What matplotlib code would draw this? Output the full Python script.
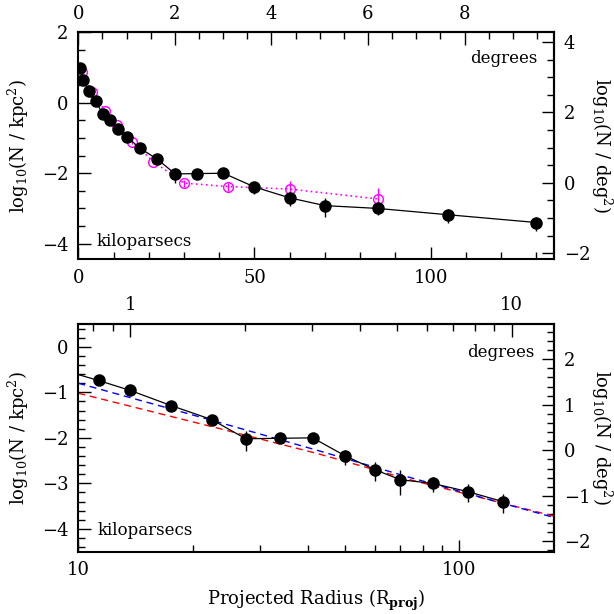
import numpy as np
import matplotlib
matplotlib.use("Agg")
import matplotlib.pyplot as plt
from matplotlib.ticker import MultipleLocator, FixedLocator, NullFormatter, FuncFormatter

# =====================
# DATA
# =====================
KPC_PER_DEG = 13.7

# black profile (kpc, log10 N/kpc^2)
radius = [0.5, 1.4, 3.1, 4.9, 6.9, 9.0, 11.3, 13.7, 17.5, 22.4, 27.5, 33.8, 41.2,
          50.0, 60.0, 70.0, 85.0, 105.0, 130.0]
logN = [1.00, 0.66, 0.33, 0.05, -0.31, -0.50, -0.74, -0.96, -1.29, -1.60, -2.02,
        -2.01, -2.00, -2.39, -2.70, -2.92, -3.00, -3.18, -3.40]
err_lo = [0.02, 0.02, 0.03, 0.03, 0.04, 0.04, 0.05, 0.05, 0.06, 0.12, 0.26, 0.10,
          0.10, 0.20, 0.24, 0.33, 0.20, 0.22, 0.24]
err_hi = [0.02, 0.02, 0.03, 0.03, 0.04, 0.04, 0.05, 0.05, 0.05, 0.08, 0.16, 0.08,
          0.08, 0.13, 0.17, 0.22, 0.15, 0.16, 0.17]

# magenta comparison profile
radius_mag = [1.0, 4.0, 7.6, 11.0, 15.2, 21.3, 30.0, 42.6, 60.0, 85.0]
logN_mag = [0.88, 0.30, -0.22, -0.63, -1.10, -1.67, -2.28, -2.38, -2.45, -2.73]
err_mag_lo = [0.02, 0.03, 0.04, 0.05, 0.06, 0.08, 0.12, 0.12, 0.18, 0.17]
err_mag_hi = [0.02, 0.03, 0.04, 0.05, 0.06, 0.08, 0.10, 0.10, 0.22, 0.30]

# model curves (bottom panel)
model_radius = [10.0, 22.3, 42.6, 74.1, 177.0]
model_blue = [-0.80, -1.61, -2.28, -2.87, -3.75]
model_red = [-1.02, -1.75, -2.35, -2.92, -3.72]

# tick values
top1_ticks = [0, 2, 4, 6, 8]
right1_ticks = [-2, 0, 2, 4]
top2_ticks = [1, 10]
top2_minor = [0.8, 0.9, 2, 3, 4, 5, 6, 7, 8, 9]
right2_ticks = [-2, -1, 0, 1, 2]

# =====================
# STYLE
# =====================
plt.rcParams["font.family"] = ["DejaVu Serif"]
plt.rcParams["mathtext.fontset"] = "dejavuserif"
plt.rcParams["font.size"] = 13
plt.rcParams["axes.linewidth"] = 1.5

OFFSET = 2 * np.log10(KPC_PER_DEG)


def kpc2deg(x):
    return np.asarray(x) / KPC_PER_DEG


def deg2kpc(x):
    return np.asarray(x) * KPC_PER_DEG


def to_deg2(y):
    return np.asarray(y) + OFFSET


def to_kpc2(y):
    return np.asarray(y) - OFFSET


def style_ticks(ax):
    ax.tick_params(which="both", direction="in", width=1.0, pad=7, labelsize=13)
    ax.tick_params(which="major", length=9)
    ax.tick_params(which="minor", length=5)


fmt_g = FuncFormatter(lambda v, p: f"{v:g}")

fig = plt.figure(figsize=(6.14, 6.14), dpi=100)

# =====================
# TOP PANEL (linear)
# =====================
ax1 = fig.add_axes([0.1275, 0.5774, 0.7748, 0.3698])
ax1.errorbar(radius_mag, logN_mag, yerr=[err_mag_lo, err_mag_hi], fmt="o",
             ls=(0, (1, 2)), color="#ff00ff", mfc="none", mec="#ff00ff", ms=7,
             mew=1.0, lw=1.2, elinewidth=1.0, capsize=0, zorder=2)
ax1.errorbar(radius, logN, yerr=[err_lo, err_hi], fmt="o-", color="black",
             ms=8, lw=0.9, elinewidth=1.0, capsize=0, zorder=3)
ax1.set_xlim(0, 135)
ax1.set_ylim(-4.45, 2.0)
ax1.xaxis.set_major_locator(FixedLocator([0, 50, 100]))
ax1.xaxis.set_minor_locator(FixedLocator(np.arange(0, 131, 10)))
ax1.yaxis.set_major_locator(FixedLocator([-4, -2, 0, 2]))
ax1.yaxis.set_minor_locator(FixedLocator(np.arange(-4.0, 2.01, 0.5)))
style_ticks(ax1)

top1 = ax1.secondary_xaxis("top", functions=(kpc2deg, deg2kpc))
top1.xaxis.set_major_locator(FixedLocator(top1_ticks))
top1.xaxis.set_minor_locator(FixedLocator(np.arange(0, 9.81, 0.5)))
style_ticks(top1)

right1 = ax1.secondary_yaxis("right", functions=(to_deg2, to_kpc2))
right1.yaxis.set_major_locator(FixedLocator(right1_ticks))
right1.yaxis.set_minor_locator(FixedLocator(np.arange(-2.0, 4.01, 0.5)))
style_ticks(right1)

ax1.text(0.966, 0.887, "degrees", transform=ax1.transAxes, ha="right",
         va="center", fontsize=12)
ax1.text(0.039, 0.081, "kiloparsecs", transform=ax1.transAxes, ha="left",
         va="center", fontsize=12)

# =====================
# BOTTOM PANEL (log x)
# =====================
ax2 = fig.add_axes([0.1275, 0.1015, 0.7748, 0.3708])
ax2.plot(model_radius, model_red, color="red", lw=1.0, ls=(0, (5, 3.5)), zorder=2)
ax2.plot(model_radius, model_blue, color="blue", lw=1.0, ls=(0, (5, 3.5)), zorder=2)
ax2.errorbar(radius, logN, yerr=[err_lo, err_hi], fmt="o-", color="black",
             ms=8, lw=0.9, elinewidth=1.0, capsize=0, zorder=3)
ax2.set_xscale("log")
ax2.set_xlim(10, 177)
ax2.set_ylim(-4.5, 0.5)
ax2.xaxis.set_major_locator(FixedLocator([10, 100]))
ax2.xaxis.set_minor_locator(FixedLocator([20, 30, 40, 50, 60, 70, 80, 90]))
ax2.xaxis.set_major_formatter(fmt_g)
ax2.xaxis.set_minor_formatter(NullFormatter())
ax2.yaxis.set_major_locator(FixedLocator([-4, -3, -2, -1, 0]))
ax2.yaxis.set_minor_locator(FixedLocator(np.arange(-4.4, 0.41, 0.2)))
style_ticks(ax2)
ax2.set_xlabel(r"Projected Radius (R$_{\mathbf{proj}}$)", fontsize=13, labelpad=6)

top2 = ax2.secondary_xaxis("top", functions=(kpc2deg, deg2kpc))
top2.xaxis.set_major_locator(FixedLocator(top2_ticks))
top2.xaxis.set_minor_locator(FixedLocator(top2_minor))
top2.xaxis.set_major_formatter(fmt_g)
top2.xaxis.set_minor_formatter(NullFormatter())
style_ticks(top2)

right2 = ax2.secondary_yaxis("right", functions=(to_deg2, to_kpc2))
right2.yaxis.set_major_locator(FixedLocator(right2_ticks))
right2.yaxis.set_minor_locator(FixedLocator(np.arange(-2.2, 2.61, 0.2)))
style_ticks(right2)

ax2.text(0.958, 0.873, "degrees", transform=ax2.transAxes, ha="right",
         va="center", fontsize=12)
ax2.text(0.04, 0.091, "kiloparsecs", transform=ax2.transAxes, ha="left",
         va="center", fontsize=12)

# =====================
# AXIS LABELS
# =====================
left_label = r"log$_{10}$(N / kpc$^2$)"
right_label = r"log$_{10}$(N / deg$^2$)"
for yc in [1 - 146 / 614, 1 - 438 / 614]:
    fig.text(18 / 614, yc, left_label, rotation=90, ha="center", va="center",
             fontsize=13)
    fig.text(602 / 614, yc, right_label, rotation=270, ha="center", va="center",
             fontsize=13)

fig.savefig("out.png", dpi=100)
